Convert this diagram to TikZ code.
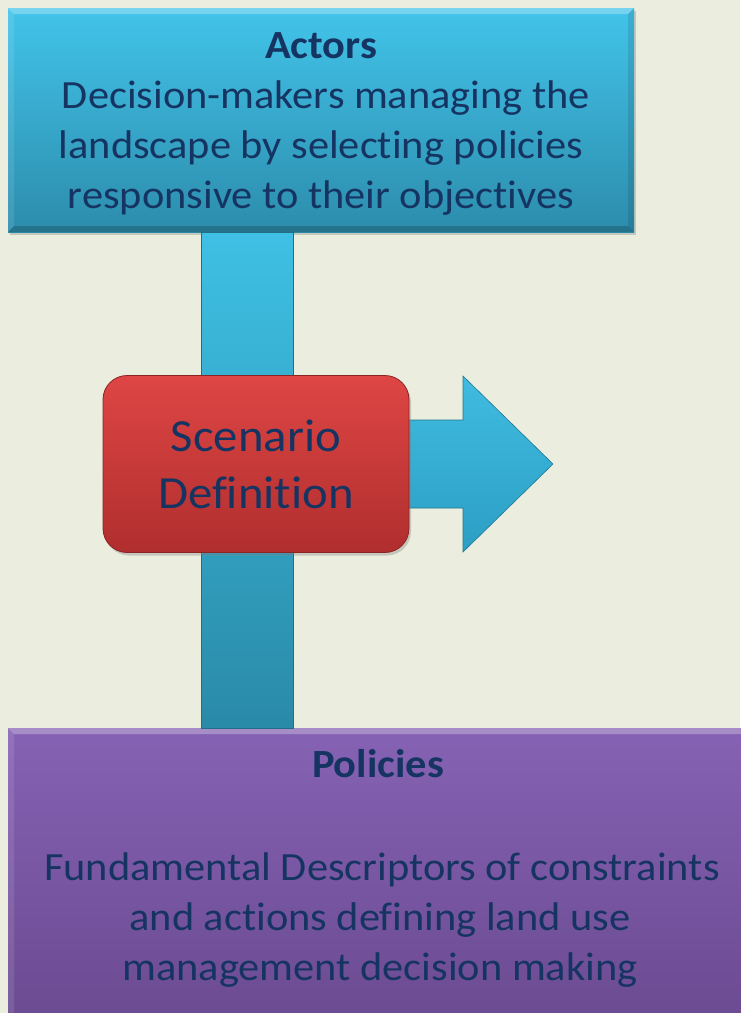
\documentclass[tikz,border=0pt]{standalone}
\usepackage{fontspec}
\setmainfont[FakeStretch=1.06, RawFeature=-liga]{Carlito}
\usetikzlibrary{shadows}

\definecolor{bgcol}{RGB}{235,238,222}
\definecolor{inkcol}{RGB}{22,52,98}
\definecolor{blueTop}{RGB}{66,196,234}
\definecolor{blueBot}{RGB}{44,140,172}
\definecolor{barTop}{RGB}{62,192,228}
\definecolor{barBot}{RGB}{42,138,168}
\definecolor{redTop}{RGB}{222,70,68}
\definecolor{redBot}{RGB}{176,46,46}
\definecolor{redEdge}{RGB}{140,36,36}
\definecolor{purTop}{RGB}{134,98,180}
\definecolor{purBot}{RGB}{106,74,144}
\definecolor{arrTop}{RGB}{64,188,224}
\definecolor{arrBot}{RGB}{44,158,196}

\tikzset{
  bevel/.style={path picture={
    \fill[white,opacity=.28] (path picture bounding box.north west) -- (path picture bounding box.north east)
      -- ([shift={(-6pt,-6pt)}]path picture bounding box.north east) -- ([shift={(6pt,-6pt)}]path picture bounding box.north west) -- cycle;
    \fill[black,opacity=.18] (path picture bounding box.south west) -- (path picture bounding box.south east)
      -- ([shift={(-6pt,6pt)}]path picture bounding box.south east) -- ([shift={(6pt,6pt)}]path picture bounding box.south west) -- cycle;
    \fill[white,opacity=.10] (path picture bounding box.north west) -- (path picture bounding box.south west)
      -- ([shift={(6pt,6pt)}]path picture bounding box.south west) -- ([shift={(6pt,-6pt)}]path picture bounding box.north west) -- cycle;
    \fill[black,opacity=.10] (path picture bounding box.north east) -- (path picture bounding box.south east)
      -- ([shift={(-6pt,6pt)}]path picture bounding box.south east) -- ([shift={(-6pt,-6pt)}]path picture bounding box.north east) -- cycle;
  }},
  panel/.style={rectangle, inner sep=0pt, draw=none, bevel,
    drop shadow={opacity=.35, shadow xshift=2pt, shadow yshift=-3pt}},
  actorsbox/.style={panel, minimum width=626pt, minimum height=224pt, top color=blueTop, bottom color=blueBot},
  policiesbox/.style={panel, minimum width=747pt, minimum height=302pt, top color=purTop, bottom color=purBot},
  scenbox/.style={rectangle, rounded corners=24pt, inner sep=0pt, minimum width=306pt, minimum height=177pt,
    top color=redTop, bottom color=redBot, draw=redEdge, line width=.8pt,
    drop shadow={opacity=.35, shadow xshift=2pt, shadow yshift=-3pt}},
  barshade/.style={top color=barTop, bottom color=barBot, draw=barBot!80!black, line width=.6pt},
  arrowshade/.style={top color=arrTop, bottom color=arrBot, draw=arrBot!75!black, line width=.6pt, line join=miter},
  txt/.style={anchor=base, text=inkcol, inner sep=0pt, font=\fontsize{40}{50}\selectfont},
  txtb/.style={txt, font=\fontsize{40}{50}\selectfont\bfseries},
  txtbig/.style={anchor=base, text=inkcol, inner sep=0pt, font=\fontsize{46}{57}\selectfont},
}

\begin{document}
\begin{tikzpicture}[x=1pt,y=-1pt]
  % page background
  \fill[bgcol] (0,0) rectangle (740,1013);
  \useasboundingbox (0,0) rectangle (740,1013);

  % the two panels
  \node[actorsbox]   (actors)   at (321,120) {};
  \node[policiesbox] (policies) at (381.5,879) {};

  % vertical link between the panels
  \shade[barshade] ([xshift=-120pt]actors.south) rectangle ([xshift=-88pt]policies.north);

  % output arrow leaving the scenario box
  \shade[arrowshade] (398,420) -- (463,420) -- (463,376) -- (553,464) -- (463,552) -- (463,508) -- (398,508) -- cycle;

  % scenario box
  \node[scenbox] (scen) at (256,464) {};

  % texts
  \node[txtb] (actT)  at (321,58)  {Actors};
  \node[txt]  (act1)  at (326,108) {Decision-makers managing the};
  \node[txt]  (act2)  at (321,158) {landscape by selecting policies};
  \node[txt]  (act3)  at (321,208) {responsive to their objectives};

  \node[txtbig] (sc1) at (256,451) {Scenario};
  \node[txtbig] (sc2) at (256,508) {Definition};

  \node[txtb] (polT)  at (378,777) {Policies};
  \node[txt]  (pol1)  at (382,880) {Fundamental Descriptors of constraints};
  \node[txt]  (pol2)  at (380,930) {and actions defining land use};
  \node[txt]  (pol3)  at (380,980) {management decision making};
\end{tikzpicture}
\end{document}
